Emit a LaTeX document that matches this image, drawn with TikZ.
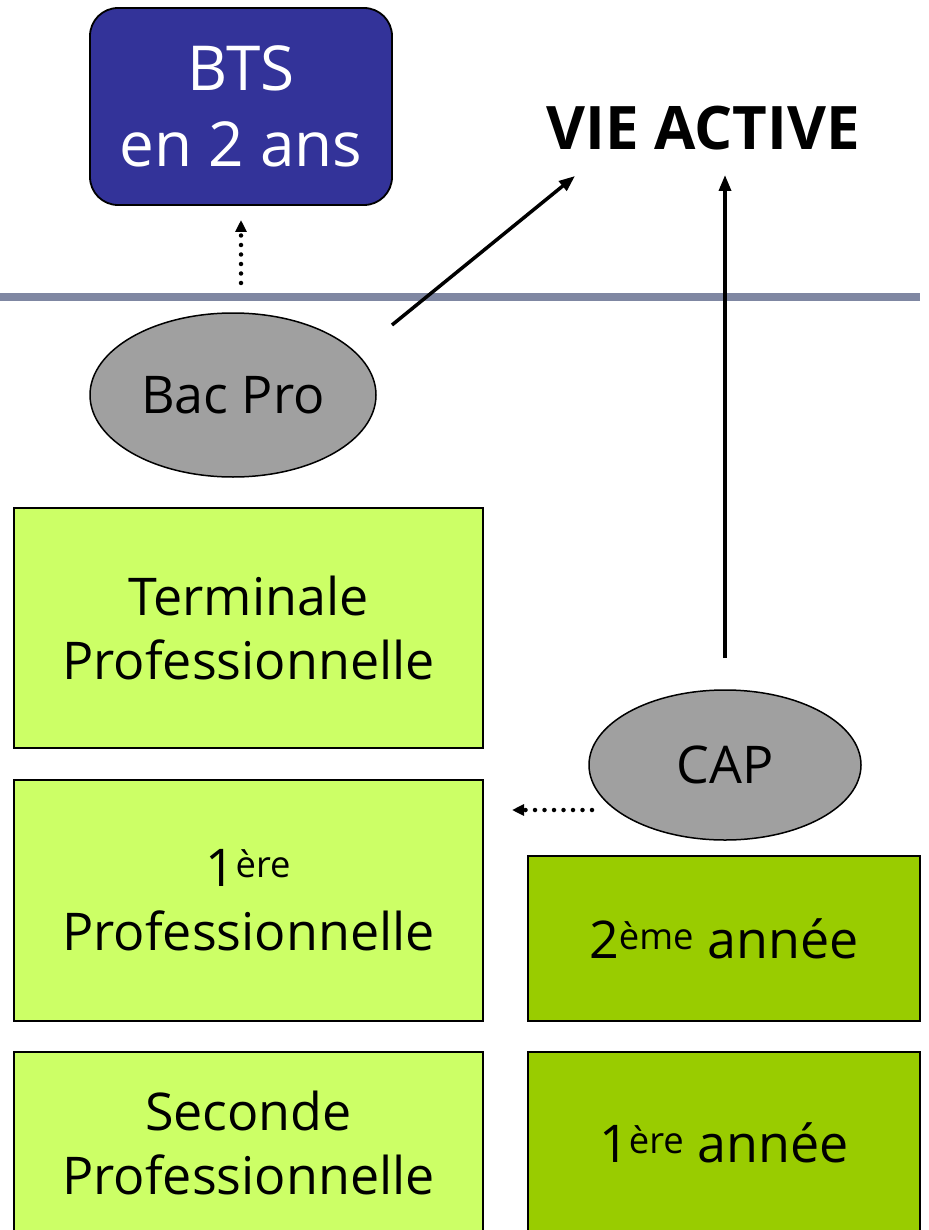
\documentclass[tikz,border=0pt]{standalone}
\usepackage{fontspec}
\setmainfont{Open Sans}
\usetikzlibrary{arrows.meta,shapes.geometric}
\definecolor{btsblue}{HTML}{333399}
\definecolor{lightgreen}{HTML}{CCFF66}
\definecolor{darkgreen}{HTML}{99CC00}
\definecolor{ovalgray}{HTML}{A0A0A0}
\definecolor{barcol}{HTML}{7F87A2}
\tikzset{
  boxlight/.style={draw=black,line width=1.8pt,fill=lightgreen,minimum width=469pt,align=center,inner sep=0pt,font=\fontsize{52}{64}\selectfont},
  boxdark/.style={draw=black,line width=1.8pt,fill=darkgreen,minimum width=392pt,align=center,inner sep=0pt,font=\fontsize{52}{64}\selectfont},
  oval/.style={ellipse,draw=black,line width=1.5pt,fill=ovalgray,inner sep=0pt,font=\fontsize{52}{60}\selectfont},
  solidarrow/.style={line width=3.5pt,-{Triangle[length=16pt,width=12pt]}},
  dotarrow/.style={line width=4.5pt,line cap=round,dash pattern=on 0pt off 9.5pt,-{Triangle[length=12pt,width=11pt,line cap=butt]}},
}
\begin{document}
\begin{tikzpicture}[x=1pt,y=-1pt]
\useasboundingbox (0,0) rectangle (928,1230);
% BTS box
\node[draw=black,line width=1.8pt,fill=btsblue,rounded corners=28pt,minimum width=302pt,minimum height=197pt,text=white,align=center,inner sep=0pt,font=\fontsize{62}{76}\selectfont] (bts) at (241,106.5) {BTS\\en 2 ans};
% VIE ACTIVE
\node[font=\bfseries\fontsize{60}{70}\selectfont,inner sep=0pt] (vie) at (703,128) {VIE ACTIVE};
% bar
\coordinate (barl) at (0,297);
\coordinate (barr) at (920,297);
\draw[barcol,line width=8pt] (barl) -- (barr);
% ellipses
\node[oval,minimum width=286pt,minimum height=164pt] (bac) at (233,395) {Bac Pro};
\node[oval,minimum width=272pt,minimum height=150pt] (cap) at (725,765) {CAP};
% boxes
\node[boxlight,minimum height=240pt] (term) at (248.5,628) {Terminale\\Professionnelle};
\node[boxlight,minimum height=241pt] (prem) at (248.5,900.5) {1\textsuperscript{ère}\\Professionnelle};
\node[boxlight,minimum height=182pt] (sec) at (248.5,1143) {Seconde\\Professionnelle};
\node[boxdark,minimum height=165pt] (deux) at (724,938.5) {2\textsuperscript{ème} année};
\node[boxdark,minimum height=182pt] (un) at (724,1143) {1\textsuperscript{ère} année};
% arrows
\coordinate (d1s) at (241,283);
\coordinate (d1e) at (241,220);
\draw[dotarrow] (d1s) -- (d1e);
\coordinate (a1s) at (392,325);
\coordinate (a1e) at (575,176);
\draw[solidarrow] (a1s) -- (a1e);
\coordinate (a2s) at (725,658);
\coordinate (a2e) at (725,175);
\draw[solidarrow] (a2s) -- (a2e);
\coordinate (d2s) at (592,810);
\coordinate (d2e) at (512,810);
\draw[dotarrow] (d2s) -- (d2e);
\end{tikzpicture}
\end{document}
